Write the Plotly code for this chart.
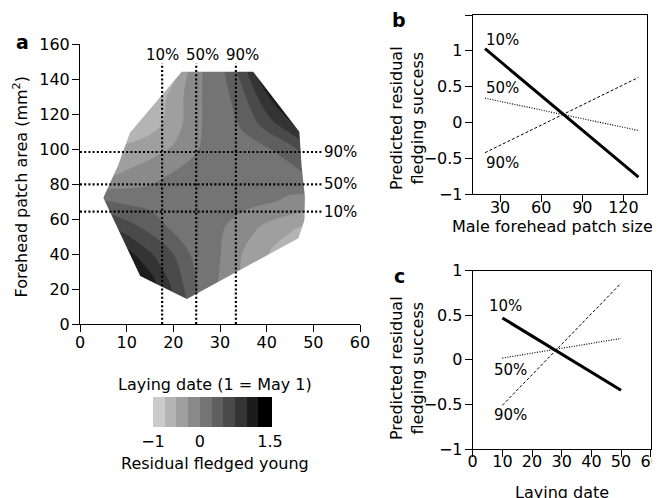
import plotly.graph_objects as go

W, H = 660, 498
OFF = 8  # page body margin of the rendered html
FONT = "DejaVu Sans"

# ---------------- Panel a data ----------------
lay_dates = [5, 10, 15, 20, 25, 30, 35, 40, 45, 50]
patch_sizes = [10, 25, 40, 55, 70, 85, 100, 115, 130, 145]
resid_fledged = [
    [1.50, 1.50, 1.30, 0.80, 0.30, -0.05, -0.25, -0.45, -0.65, -0.85],   # 10
    [1.50, 1.40, 1.10, 0.66, 0.24, -0.02, -0.28, -0.40, -0.60, -0.80],   # 25
    [1.40, 1.10, 0.78, 0.50, 0.15, 0.01, -0.27, -0.48, -0.70, -0.85],    # 40
    [0.85, 0.62, 0.42, 0.20, 0.13, 0.03, -0.12, -0.32, -0.45, -0.60],    # 55
    [0.27, 0.20, 0.16, 0.13, 0.12, 0.10, 0.07, 0.03, -0.04, -0.10],      # 70
    [-0.30, -0.20, -0.10, 0.03, 0.08, 0.10, 0.12, 0.15, 0.12, 0.30],     # 85
    [-0.50, -0.45, -0.35, -0.22, -0.01, 0.08, 0.15, 0.22, 0.40, 0.75],   # 100
    [-0.72, -0.70, -0.62, -0.40, -0.03, 0.10, 0.30, 0.63, 0.97, 1.40],   # 115
    [-0.80, -0.80, -0.70, -0.42, -0.03, 0.10, 0.45, 0.95, 1.50, 1.50],   # 130
    [-0.75, -0.75, -0.65, -0.58, -0.06, 0.17, 0.65, 1.40, 1.50, 1.50],   # 145
]
# outline of the sampled region (data hull)
hull_date = [21.8, 37.1, 47.0, 47.5, 48.2, 48.1, 46.8, 22.9, 12.9, 5.0, 8.2, 10.7]
hull_patch = [144.2, 144.2, 109.9, 89.9, 72.7, 59.4, 49.0, 14.3, 27.4, 72.2, 90.9, 109.3]
# percentile lines
pct_labels = ["10%", "50%", "90%"]
date_pct = [17.6, 24.9, 33.4]
patch_pct = [64.2, 79.8, 98.3]

grays = ["#cbcbcb", "#b4b4b4", "#9f9f9f", "#8a8a8a", "#747474",
         "#5f5f5f", "#4a4a4a", "#343434", "#1c1c1c", "#000000"]

# ---------------- Panel b data ----------------
b_patch = [19, 131]
b_10 = [1.03, -0.76]
b_50 = [0.34, -0.11]
b_90 = [-0.42, 0.63]

# ---------------- Panel c data ----------------
c_date = [10, 50]
c_10 = [0.47, -0.34]
c_50 = [0.02, 0.24]
c_90 = [-0.51, 0.86]


def px(x):
    return (x - OFF) / W


def py(y):
    return 1 - (y - OFF) / H


# stepped colorscale
cs = []
n = len(grays)
for i, g in enumerate(grays):
    cs.append([i / n, g])
    cs.append([(i + 1) / n, g])

fig = go.Figure()

fig.add_trace(go.Contour(
    x=lay_dates, y=patch_sizes, z=resid_fledged,
    zmin=-1, zmax=1.5, autocontour=False,
    contours=dict(start=-1, end=1.5, size=0.25, coloring="fill", showlines=False),
    line=dict(width=0),
    colorscale=cs,
    hoverinfo="skip",
    colorbar=dict(orientation="h", x=px(211.5), xanchor="center",
                  y=py(397), yanchor="top", len=117, lenmode="pixels",
                  thickness=30, thicknessmode="pixels", outlinewidth=0,
                  xpad=0, ypad=0, ticks="",
                  tickvals=[-1, 0, 1.5], ticktext=["\u22121", "0", "1.5"],
                  tickfont=dict(family=FONT, size=16, color="black")),
    xaxis="x", yaxis="y",
))

# white mask outside the sampled hull (keyhole polygon)
x0, x1, y0, y1 = 3.5, 51.5, 8, 147
mask_x = hull_date + [hull_date[0], hull_date[0], x0, x0, x1, x1, hull_date[0], hull_date[0]]
mask_y = hull_patch + [hull_patch[0], y1, y1, y0, y0, y1, y1, hull_patch[0]]
fig.add_trace(go.Scatter(x=mask_x, y=mask_y, mode="lines", fill="toself",
                         fillcolor="white", line=dict(width=0, color="white"),
                         hoverinfo="skip", showlegend=False, xaxis="x", yaxis="y"))

dot = dict(color="black", width=2.2, dash="2px,2.2px")
for d in date_pct:
    fig.add_trace(go.Scatter(x=[d, d], y=[0, 149], mode="lines", line=dot,
                             hoverinfo="skip", showlegend=False, xaxis="x", yaxis="y"))
for p in patch_pct:
    fig.add_trace(go.Scatter(x=[0, 52.1], y=[p, p], mode="lines", line=dot,
                             hoverinfo="skip", showlegend=False, xaxis="x", yaxis="y"))

# panel b lines
fig.add_trace(go.Scatter(x=b_patch, y=b_10, mode="lines", line=dict(color="black", width=3),
                         showlegend=False, xaxis="x2", yaxis="y2"))
fig.add_trace(go.Scatter(x=b_patch, y=b_50, mode="lines",
                         line=dict(color="black", width=1.2, dash="1px,1.5px"),
                         showlegend=False, xaxis="x2", yaxis="y2"))
fig.add_trace(go.Scatter(x=b_patch, y=b_90, mode="lines",
                         line=dict(color="black", width=1, dash="3px,2px"),
                         showlegend=False, xaxis="x2", yaxis="y2"))
# panel c lines
fig.add_trace(go.Scatter(x=c_date, y=c_10, mode="lines", line=dict(color="black", width=3),
                         showlegend=False, xaxis="x3", yaxis="y3"))
fig.add_trace(go.Scatter(x=c_date, y=c_50, mode="lines",
                         line=dict(color="black", width=1.2, dash="1px,1.5px"),
                         showlegend=False, xaxis="x3", yaxis="y3"))
fig.add_trace(go.Scatter(x=c_date, y=c_90, mode="lines",
                         line=dict(color="black", width=1, dash="3px,2px"),
                         showlegend=False, xaxis="x3", yaxis="y3"))

tickfont = dict(family=FONT, size=16, color="black")
common = dict(showgrid=False, zeroline=False, showline=True, linecolor="black",
              linewidth=1, ticks="outside", ticklen=7, tickwidth=1, tickcolor="black",
              tickfont=tickfont, automargin=False)
xcommon = dict(common, ticklabelstandoff=-3)
xcommon_bc = dict(common, ticklabelstandoff=-9, mirror=True)
ycommon = dict(common, ticklabelstandoff=-1)
boxed_y = dict(ycommon, mirror=True)

fig.update_layout(
    width=W, height=H,
    margin=dict(l=0, r=0, t=0, b=0, pad=0, autoexpand=False),
    paper_bgcolor="white", plot_bgcolor="white",
    showlegend=False,
    font=dict(family=FONT, size=16, color="black"),
    xaxis=dict(xcommon, domain=[px(80), px(360)], range=[0, 60],
               tickvals=[0, 10, 20, 30, 40, 50, 60], anchor="y"),
    yaxis=dict(ycommon, domain=[py(324), py(44)], range=[0, 160],
               tickvals=[0, 20, 40, 60, 80, 100, 120, 140, 160], anchor="x"),
    xaxis2=dict(xcommon_bc, domain=[px(472.7), px(646.7)], range=[10, 137],
                tickvals=[30, 60, 90, 120], anchor="y2"),
    yaxis2=dict(boxed_y, domain=[py(194.3), py(15)], range=[-1, 1.5],
                tickvals=[-1, -0.5, 0, 0.5, 1, 1.5],
                ticktext=["\u22121", "\u22120.5", "0", "0.5", "1", "1.5"], anchor="x2"),
    xaxis3=dict(xcommon_bc, domain=[px(472.7), px(650.7)], range=[0, 60],
                tickvals=[0, 10, 20, 30, 40, 50, 60], anchor="y3"),
    yaxis3=dict(boxed_y, domain=[py(449), py(270.7)], range=[-1, 1],
                tickvals=[-1, -0.5, 0, 0.5, 1],
                ticktext=["\u22121", "\u22120.5", "0", "0.5", "1"], anchor="x3"),
)

ann = []


def paper_text(text, x, y, size=16, bold=False, angle=0):
    t = "<b>%s</b>" % text if bold else text
    ann.append(dict(text=t, x=px(x), y=py(y), xref="paper", yref="paper",
                    showarrow=False, textangle=angle, xanchor="center", yanchor="middle",
                    font=dict(family=FONT, size=size, color="black")))


paper_text("a", 22.5, 42, size=19, bold=True)
paper_text("b", 399, 20, size=19, bold=True)
paper_text("c", 399, 276, size=19, bold=True)
paper_text("Forehead patch area (mm<sup>2</sup>)", 20.7, 186.7, angle=-90)
paper_text("Laying date (1 = May 1)", 215, 384)
paper_text("Residual fledged young", 215, 463)
paper_text("Predicted residual<br>fledging success", 407, 118, angle=-90)
paper_text("Predicted residual<br>fledging success", 407, 368, angle=-90)
paper_text("Male forehead patch size", 552.5, 226)
paper_text("Laying date", 561.7, 492)

pfont = dict(family=FONT, size=15, color="black")
top_shift = [0, 1.3, 1.5]
for lab, d, s in zip(pct_labels, date_pct, top_shift):
    ann.append(dict(text=lab, x=d + s, y=153.7, xref="x", yref="y", showarrow=False,
                    font=pfont, xanchor="center", yanchor="middle"))
for lab, p in zip(pct_labels, patch_pct):
    ann.append(dict(text=lab, x=52.3, y=p, xref="x", yref="y", showarrow=False,
                    font=pfont, xanchor="left", yanchor="middle", xshift=-2))

for lab, yv in zip(pct_labels, [1.15, 0.48, -0.57]):
    ann.append(dict(text=lab, x=32, y=yv, xref="x2", yref="y2", showarrow=False,
                    font=pfont, xanchor="center", yanchor="middle"))
for lab, xv, yv in zip(pct_labels, [10.9, 12.6, 12.6], [0.6, -0.11, -0.62]):
    ann.append(dict(text=lab, x=xv, y=yv, xref="x3", yref="y3", showarrow=False,
                    font=pfont, xanchor="center", yanchor="middle"))

fig.update_layout(annotations=ann)
fig.write_html("out.html")
